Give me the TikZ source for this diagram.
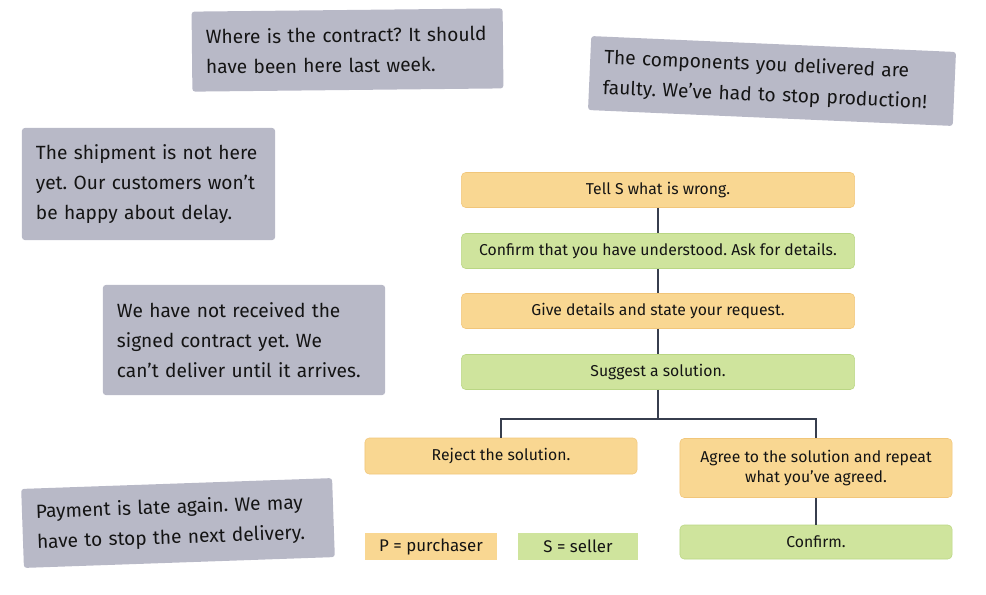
\documentclass[tikz,border=0pt]{standalone}
\usepackage{fontspec}
\setmainfont{Fira Sans}
\usetikzlibrary{positioning}
\definecolor{quote}{RGB}{184,185,199}
\definecolor{buyer}{RGB}{249,215,146}
\definecolor{buyerline}{RGB}{241,198,122}
\definecolor{seller}{RGB}{207,228,157}
\definecolor{sellerline}{RGB}{186,214,132}
\definecolor{wire}{RGB}{55,62,78}
\frenchspacing

\begin{document}
\begin{tikzpicture}[x=0.025cm, y=-0.025cm,
    quotebox/.style={fill=quote, rounded corners=2pt, align=left, inner xsep=0.35cm,
      text=black!92, font=\fontsize{13.6}{21.5}\selectfont},
    pstep/.style={draw=buyerline, fill=buyer, rounded corners=3pt, align=center,
      text=black!92, font=\fontsize{11.2}{14.5}\selectfont},
    sstep/.style={pstep, draw=sellerline, fill=seller},
    wide/.style={minimum width=9.825cm, minimum height=0.875cm},
    half/.style={minimum width=6.8cm},
    key/.style={minimum height=0.675cm, text=black!92, font=\fontsize{12}{14}\selectfont},
    link/.style={draw=wire, line width=1.2pt}]
                \useasboundingbox (0,0) rectangle (986,594);

                % Complaints
                \node[quotebox, text width=7.075cm, minimum height=2cm, rotate=0.6] (contract) at (347.5,50)
                    {Where is the contract? It should\\have been here last week.};
                \node[quotebox, text width=8.425cm, minimum height=1.85cm, rotate=-2.5] (faulty) at (772,81)
                    {The components you delivered are\\faulty. We've had to stop production!};
                \node[quotebox, text width=5.625cm, minimum height=2.8cm] (shipment) at (148.5,184)
                    {The shipment is not here\\yet. Our customers won't\\be happy about delay.};
                \node[quotebox, text width=6.35cm, minimum height=2.75cm] (signed) at (244,340)
                    {We have not received the\\signed contract yet. We\\can't deliver until it arrives.};
                \node[quotebox, text width=7.075cm, minimum height=1.975cm, rotate=2] (payment) at (178,523)
                    {Payment is late again. We may\\have to stop the next delivery.};

                % Steps
                \node[pstep, wide] (wrong) at (658,190) {Tell S what is wrong.};
                \node[sstep, wide] (understood) at (658,251) {Confirm that you have understood. Ask for details.};
                \node[pstep, wide] (request) at (658,311) {Give details and state your request.};
                \node[sstep, wide] (suggest) at (658,372) {Suggest a solution.};
                \node[pstep, half, minimum height=0.9cm] (reject) at (501,456) {Reject the solution.};
                \node[pstep, half, minimum height=1.475cm] (agree) at (816,468)
                    {Agree to the solution and repeat\\what you've agreed.};
                \node[sstep, half, minimum height=0.85cm] (done) at (816,542) {Confirm.};

                % Legend
                \node[key, fill=buyer, minimum width=3.3cm] (purchaser) at (431,546.5) {P = purchaser};
                \node[key, fill=seller, minimum width=3cm] (seller) at (578,546.5) {S = seller};

                % Links
                \coordinate (fork) at (658,419);
                \draw[link] (wrong) -- (understood);
                \draw[link] (understood) -- (request);
                \draw[link] (request) -- (suggest);
                \draw[link] (suggest) -- (fork);
                \draw[link] (fork) -| (reject);
                \draw[link] (fork) -| (agree);
                \draw[link] (agree) -- (done);
\end{tikzpicture}
\end{document}
